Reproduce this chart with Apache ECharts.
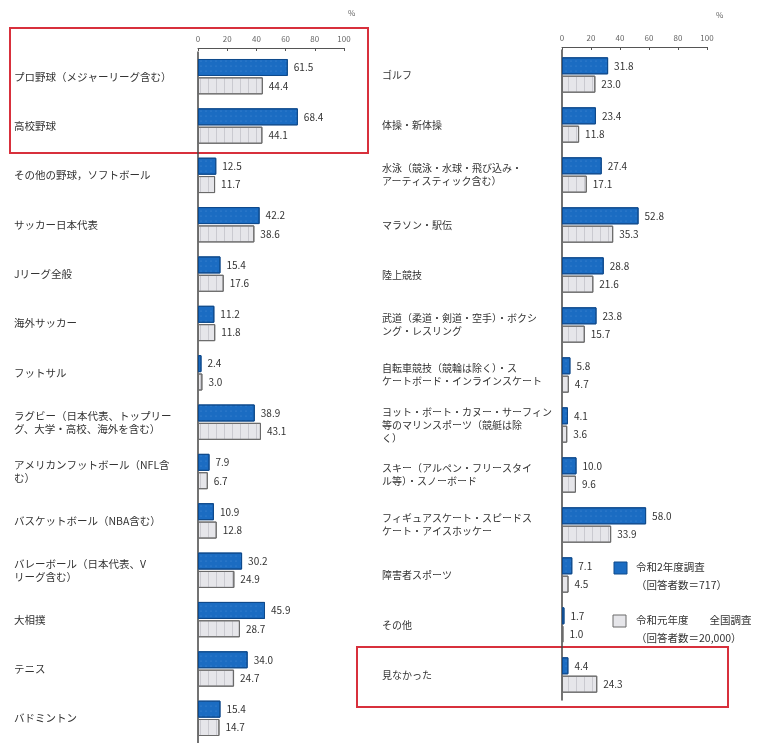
<!DOCTYPE html>
<html><head><meta charset="utf-8">
<script src="https://cdn.jsdelivr.net/npm/echarts@6/dist/echarts.min.js"></script>
<style>html,body{margin:0;padding:0;background:#fff}#c{width:765px;height:743px}</style>
</head><body><div id="c"></div>
<script>
const seriesNames = ['令和2年度調査\n（回答者数＝717）', '令和元年度　　全国調査\n（回答者数＝20,000）'];
const tickLabels = ['0', '20', '40', '60', '80', '100'];

const leftCats = [
  'プロ野球（メジャーリーグ含む）',
  '高校野球',
  'その他の野球，ソフトボール',
  'サッカー日本代表',
  'Jリーグ全般',
  '海外サッカー',
  'フットサル',
  'ラグビー（日本代表、トップリー\nグ、大学・高校、海外を含む）',
  'アメリカンフットボール（NFL含\nむ）',
  'バスケットボール（NBA含む）',
  'バレーボール（日本代表、V\nリーグ含む）',
  '大相撲',
  'テニス',
  'バドミントン'
];
const leftR2 = [61.5, 68.4, 12.5, 42.2, 15.4, 11.2, 2.4, 38.9, 7.9, 10.9, 30.2, 45.9, 34.0, 15.4];
const leftR1 = [44.4, 44.1, 11.7, 38.6, 17.6, 11.8, 3.0, 43.1, 6.7, 12.8, 24.9, 28.7, 24.7, 14.7];

const rightCats = [
  'ゴルフ',
  '体操・新体操',
  '水泳（競泳・水球・飛び込み・\nアーティスティック含む）',
  'マラソン・駅伝',
  '陸上競技',
  '武道（柔道・剣道・空手）・ボクシ\nング・レスリング',
  '自転車競技（競輪は除く）・ス\nケートボード・インラインスケート',
  'ヨット・ボート・カヌー・サーフィン\n等のマリンスポーツ（競艇は除\nく）',
  'スキー（アルペン・フリースタイ\nル等）・スノーボード',
  'フィギュアスケート・スピードス\nケート・アイスホッケー',
  '障害者スポーツ',
  'その他',
  '見なかった'
];
const rightR2 = [31.8, 23.4, 27.4, 52.8, 28.8, 23.8, 5.8, 4.1, 10.0, 58.0, 7.1, 1.7, 4.4];
const rightR1 = [23.0, 11.8, 17.1, 35.3, 21.6, 15.7, 4.7, 3.6, 9.6, 33.9, 4.5, 1.0, 24.3];

const FONT = '"Noto Sans CJK JP", "Noto Sans", sans-serif';
const BLUE = '#1b6cc2', BLUE_B = '#0f4a8c', LIGHT = '#e6e6ea', LIGHT_B = '#6a6a6a';
const DECAL_BLUE = {symbol: 'circle', symbolSize: 0.5, dashArrayX: [2, 3], dashArrayY: [2, 3], color: 'rgba(160,200,240,0.45)'};
const DECAL_LIGHT = {symbol: 'rect', symbolSize: 1, dashArrayX: [1, 7], dashArrayY: [4, 0], color: 'rgba(150,150,160,0.35)'};

function xAx(gi, offset) {
  return {
    gridIndex: gi, type: 'value', min: 0, max: 100, interval: 20, position: 'top', offset: offset,
    axisLine: {show: true, lineStyle: {color: '#555', width: 1}},
    axisTick: {show: true, length: 3, inside: true, lineStyle: {color: '#555'}},
    axisLabel: {fontSize: 8, color: '#666', margin: 5, fontFamily: FONT,
      formatter: v => tickLabels[Math.round(v / 20)]},
    splitLine: {show: false}
  };
}
function yAx(gi, cats, margin, fs) {
  return {
    gridIndex: gi, type: 'category', inverse: true, data: cats,
    axisLine: {show: true, lineStyle: {color: '#444', width: 1.5}},
    axisTick: {show: false},
    axisLabel: {align: 'left', margin: margin, fontSize: fs, color: '#333', lineHeight: 13, fontFamily: FONT}
  };
}
function bar(gi, data, color, border, decal, name) {
  return {
    type: 'bar', name: name, xAxisIndex: gi, yAxisIndex: gi, data: data,
    barWidth: 17, barGap: '8%',
    itemStyle: {color: color, borderColor: border, borderWidth: 1, decal: decal},
    label: {show: true, position: 'right', distance: 6, fontSize: 10, color: '#333', fontFamily: FONT,
      formatter: p => p.value.toFixed(1)},
    emphasis: {disabled: true}
  };
}

const chart = echarts.init(document.getElementById('c'), null, {renderer: 'canvas'});
chart.setOption({
  animation: false,
  textStyle: {fontFamily: FONT},
  grid: [
    {left: 198, top: 52, width: 146, height: 700},
    {left: 562, top: 50, width: 145, height: 650}
  ],
  xAxis: [xAx(0, 4), xAx(1, 3)],
  yAxis: [yAx(0, leftCats, 184, 10.5), yAx(1, rightCats, 180, 10)],
  series: [
    bar(0, leftR2, BLUE, BLUE_B, DECAL_BLUE, seriesNames[0]),
    bar(0, leftR1, LIGHT, LIGHT_B, DECAL_LIGHT, seriesNames[1]),
    bar(1, rightR2, BLUE, BLUE_B, DECAL_BLUE, seriesNames[0]),
    bar(1, rightR1, LIGHT, LIGHT_B, DECAL_LIGHT, seriesNames[1])
  ],
  graphic: [
    {type: 'text', left: 348, top: 9, style: {text: '%', fontSize: 8, fill: '#666', fontFamily: FONT}},
    {type: 'text', left: 716, top: 11, style: {text: '%', fontSize: 8, fill: '#666', fontFamily: FONT}},
    {type: 'rect', shape: {x: 10, y: 28, width: 358, height: 125}, style: {fill: 'none', stroke: '#d8303c', lineWidth: 2}},
    {type: 'rect', shape: {x: 357, y: 647, width: 371, height: 60}, style: {fill: 'none', stroke: '#d8303c', lineWidth: 2}},
    {type: 'rect', shape: {x: 614, y: 562, width: 13, height: 12}, style: {fill: BLUE, stroke: BLUE_B, lineWidth: 1}},
    {type: 'text', left: 636, top: 558, style: {text: seriesNames[0], fontSize: 10.5, lineHeight: 18, fill: '#333', fontFamily: FONT}},
    {type: 'rect', shape: {x: 613, y: 615, width: 13, height: 12}, style: {fill: LIGHT, stroke: LIGHT_B, lineWidth: 1}},
    {type: 'text', left: 636, top: 611, style: {text: seriesNames[1], fontSize: 10.5, lineHeight: 18, fill: '#333', fontFamily: FONT}}
  ]
});
</script>
</body></html>
